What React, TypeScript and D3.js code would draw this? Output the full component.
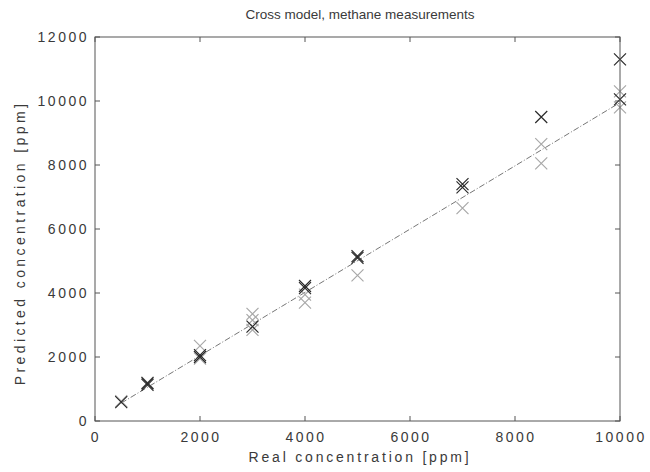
import React from 'react';
import * as d3 from 'd3';

const darkX = [500, 1000, 1000, 2000, 2000, 3000, 4000, 4000, 5000, 5000, 7000, 7000, 8500, 10000, 10000];
const darkY = [590, 1130, 1180, 2000, 2060, 2950, 4150, 4220, 5100, 5150, 7300, 7400, 9500, 11300, 10050];

const lightX = [500, 1000, 2000, 2000, 3000, 3000, 3000, 4000, 4000, 5000, 7000, 8500, 8500, 10000, 10000];
const lightY = [620, 1200, 2350, 1950, 3350, 3150, 2850, 3700, 3950, 4550, 6650, 8650, 8050, 10300, 9800];

const fitX = [500, 10000];
const fitY = [560, 9950];

const xTicks = [0, 2000, 4000, 6000, 8000, 10000];
const yTicks = [0, 2000, 4000, 6000, 8000, 10000, 12000];

const App: React.FC = () => {
  const width = 650;
  const height = 472;
  const left = 95;
  const right = 620;
  const top = 37;
  const bottom = 421;
  const font = '"Liberation Sans", Arial, sans-serif';
  const ink = '#3a3a3a';

  const x = d3.scaleLinear().domain([0, 10000]).range([left, right]);
  const y = d3.scaleLinear().domain([0, 12000]).range([bottom, top]);

  const line = d3.line<number>().x((d, i) => x(fitX[i])).y(d => y(d));

  const cross = (cx: number, cy: number, color: string, key: string) => {
    const s = 6;
    return (
      <path
        key={key}
        d={`M${cx - s},${cy - s}L${cx + s},${cy + s}M${cx - s},${cy + s}L${cx + s},${cy - s}`}
        stroke={color}
        strokeWidth={1.2}
        fill="none"
      />
    );
  };

  const tick = 5;

  return (
    <div style={{ position: 'fixed', left: 0, top: 0 }}>
      <svg width={width} height={height} style={{ display: 'block', background: '#fff' }}>
        {/* fitted line */}
        <path
          d={line(fitY) || ''}
          fill="none"
          stroke="#777"
          strokeWidth={1}
          strokeDasharray="6,2,1,2"
        />

        {lightX.map((v, i) => cross(x(v), y(lightY[i]), '#a8a8a8', `l-${i}`))}
        {darkX.map((v, i) => cross(x(v), y(darkY[i]), '#2a2a2a', `d-${i}`))}

        {/* box */}
        <rect x={left} y={top} width={right - left} height={bottom - top} fill="none" stroke="#555" strokeWidth={1} />

        {xTicks.map(t => (
          <g key={`xt-${t}`}>
            <line x1={x(t)} x2={x(t)} y1={bottom} y2={bottom - tick} stroke="#555" />
            <line x1={x(t)} x2={x(t)} y1={top} y2={top + tick} stroke="#555" />
            <text x={x(t) + 1} y={bottom + 21} textAnchor="middle" fontFamily={font} fontSize={14} letterSpacing={2.5} fill={ink}>
              {t}
            </text>
          </g>
        ))}

        {yTicks.map(t => (
          <g key={`yt-${t}`}>
            <line x1={left} x2={left + tick} y1={y(t)} y2={y(t)} stroke="#555" />
            <line x1={right} x2={right - tick} y1={y(t)} y2={y(t)} stroke="#555" />
            <text x={left - 6} y={y(t) + 5} textAnchor="end" fontFamily={font} fontSize={14} letterSpacing={2.5} fill={ink}>
              {t}
            </text>
          </g>
        ))}

        <text x={360} y={19} textAnchor="middle" fontFamily={font} fontSize={13.5} fill={ink}>
          Cross model, methane measurements
        </text>
        <text x={360} y={462} textAnchor="middle" fontFamily={font} fontSize={14} letterSpacing={2.8} fill={ink}>
          Real concentration [ppm]
        </text>
        <text
          transform={`translate(25, 243) rotate(-90)`}
          textAnchor="middle"
          fontFamily={font}
          fontSize={14}
          letterSpacing={3.4}
          fill={ink}
        >
          Predicted concentration [ppm]
        </text>
      </svg>
    </div>
  );
};

export default App;
